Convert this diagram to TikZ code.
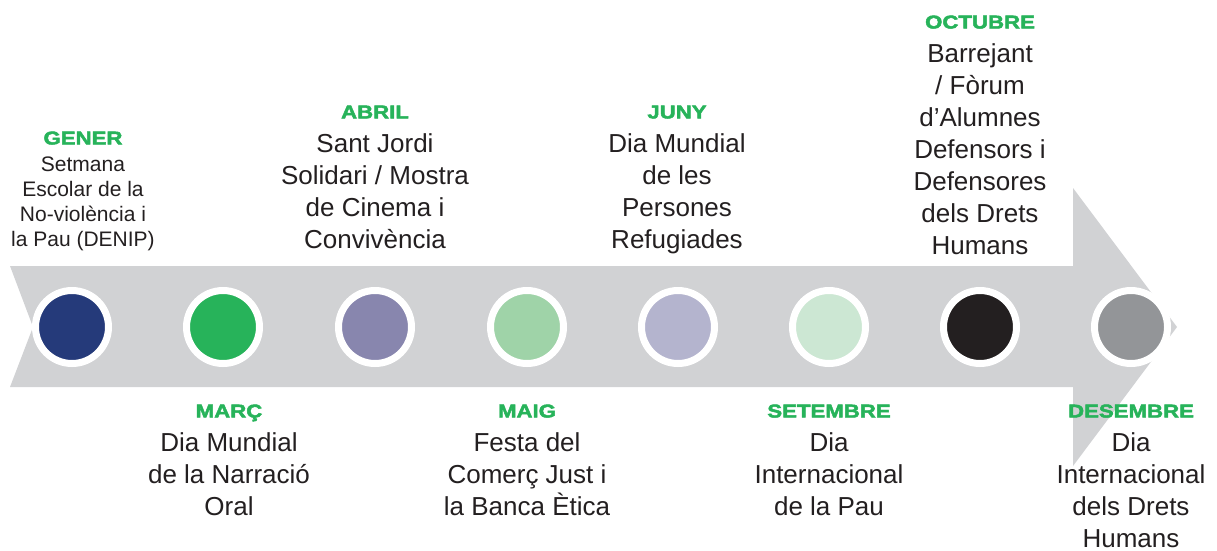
\documentclass[tikz,border=0pt]{standalone}
\usepackage{fontspec}
\setmainfont{Liberation Sans}
\newfontfamily\monthfont[FakeStretch=1.2,FakeBold=2.6]{Liberation Sans Bold}
\usetikzlibrary{positioning}

\definecolor{arrowgrey}{HTML}{D1D2D4}
\definecolor{monthgreen}{HTML}{27B35A}
\definecolor{ink}{HTML}{231F20}
\definecolor{dotA}{HTML}{253A7A}
\definecolor{dotB}{HTML}{27B35A}
\definecolor{dotC}{HTML}{8886AE}
\definecolor{dotD}{HTML}{9FD3A8}
\definecolor{dotE}{HTML}{B4B4CE}
\definecolor{dotF}{HTML}{CCE7D3}
\definecolor{dotG}{HTML}{231F20}
\definecolor{dotH}{HTML}{939598}

\tikzset{
  month/.style={font=\monthfont\fontsize{18.5}{20}\selectfont, text=monthgreen,
    inner sep=0pt, text depth=0pt},
  desc/.style={font=\fontsize{26}{32}\selectfont, text=ink, align=center, inner sep=0pt},
  descsmall/.style={desc, font=\fontsize{21}{25}\selectfont},
  dot/.style={circle, draw=white, line width=7pt, minimum size=73pt, inner sep=0pt},
}

\begin{document}
\begin{tikzpicture}[x=1pt, y=-1pt]
  \useasboundingbox (0,0) rectangle (1217,550);

  % the big arrow
  \fill[arrowgrey] (10,266) -- (1073,266) -- (1073,188) -- (1177,327)
    -- (1073,466) -- (1073,387) -- (10,387) -- (33,327) -- cycle;

  % dots on the arrow
  \foreach \n/\x/\c in {a/72/dotA, b/223/dotB, c/375/dotC, d/527/dotD,
                        e/678/dotE, f/829/dotF, g/980/dotG, h/1131/dotH}
    \node[dot, fill=\c] (dot-\n) at (\x,327) {};

  % months above the arrow
  \node[month] (gener) at (83,138) {GENER};
  \node[descsmall, below=12pt of gener] (gener-t)
    {Setmana\\Escolar de la\\No-violència i\\la Pau (DENIP)};

  \node[month] (abril) at (375,112) {ABRIL};
  \node[desc, below=14.5pt of abril] (abril-t)
    {Sant Jordi\\Solidari / Mostra\\de Cinema i\\Convivència};

  \node[month] (juny) at (677,112) {JUNY};
  \node[desc, below=14.5pt of juny] (juny-t)
    {Dia Mundial\\de les\\Persones\\Refugiades};

  \node[month] (octubre) at (980,22) {OCTUBRE};
  \node[desc, below=15pt of octubre] (octubre-t)
    {Barrejant\\/ Fòrum\\d’Alumnes\\Defensors i\\Defensores\\dels Drets\\Humans};

  % months below the arrow
  \node[month] (marc) at (229,411) {MARÇ};
  \node[desc, below=14.5pt of marc] (marc-t)
    {Dia Mundial\\de la Narració\\Oral};

  \node[month] (maig) at (527,411) {MAIG};
  \node[desc, below=14.5pt of maig] (maig-t)
    {Festa del\\Comerç Just i\\la Banca Ètica};

  \node[month] (setembre) at (829,411) {SETEMBRE};
  \node[desc, below=14.5pt of setembre] (setembre-t)
    {Dia\\Internacional\\de la Pau};

  \node[month] (desembre) at (1131,411) {DESEMBRE};
  \node[desc, below=14.5pt of desembre] (desembre-t)
    {Dia\\Internacional\\dels Drets\\Humans};
\end{tikzpicture}
\end{document}
